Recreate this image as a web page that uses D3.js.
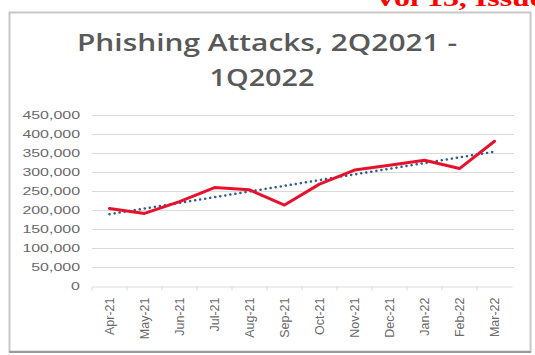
<!DOCTYPE html>
<html><head><meta charset="utf-8">
<script src="https://cdn.jsdelivr.net/npm/d3@7"></script>
<style>body{margin:0;background:#fff;}svg{display:block;}</style>
</head><body>
<script>
const categories = ["Apr-21","May-21","Jun-21","Jul-21","Aug-21","Sep-21","Oct-21","Nov-21","Dec-21","Jan-22","Feb-22","Mar-22"];
const attacks = [204000,191000,222000,259000,253000,213000,268000,305000,318000,331000,309000,381000];
const yTicks = [0,50000,100000,150000,200000,250000,300000,350000,400000,450000];
const titleLines = ["Phishing Attacks, 2Q2021 -","1Q2022"];

const W=535,H=355;
const svg=d3.select("body").append("svg").attr("width",W).attr("height",H);
svg.append("rect").attr("width",W).attr("height",H).attr("fill","#fff");

// cropped header text (cut by the top edge as in the source)
svg.append("text").attr("x",374).attr("y",6).attr("fill","#ff0000")
  .attr("font-family","Liberation Serif").attr("font-weight","bold").attr("font-size",24)
  .attr("textLength",170).attr("lengthAdjust","spacingAndGlyphs")
  .text("Vol 13, Issue");

// chart box
svg.append("rect").attr("x",9.5).attr("y",12.5).attr("width",521).attr("height",339)
  .attr("fill","#fff").attr("stroke","#c8c8c8").attr("stroke-width",2);
svg.append("line").attr("x1",9).attr("x2",531).attr("y1",352).attr("y2",352).attr("stroke","#9a9a9a").attr("stroke-width",2);

// title
svg.append("g").selectAll("text").data(titleLines).join("text")
  .attr("x",(d,i)=>i?262:267).attr("y",(d,i)=>51+i*35).attr("text-anchor","middle")
  .attr("font-family","Open Sans").attr("font-weight",600).attr("font-size",24).attr("fill","#595959")
  .attr("textLength",(d,i)=>i?105:380).attr("lengthAdjust","spacingAndGlyphs")
  .text(d=>d);

const x=d3.scaleBand().domain(categories).range([92,512]);
const y=d3.scaleLinear().domain([0,450000]).range([286,115]);

// gridlines
svg.append("g").selectAll("line").data(yTicks.slice(1)).join("line")
  .attr("x1",92).attr("x2",514).attr("y1",d=>Math.round(y(d))+0.5).attr("y2",d=>Math.round(y(d))+0.5)
  .attr("stroke","#d9d9d9").attr("stroke-width",1);

// y axis labels
const yAxis=d3.axisLeft(y).tickValues(yTicks).tickSize(0).tickPadding(0).tickFormat(d3.format(","));
const gy=svg.append("g").attr("transform","translate(80,0) scale(1.45,1)").call(yAxis);
gy.select(".domain").remove();
gy.selectAll("text").attr("font-family","Liberation Sans").attr("font-size",11).attr("fill","#6a6a6a");

// x axis
const xAxis=d3.axisBottom(x).tickSize(4).tickSizeOuter(0);
const gx=svg.append("g").attr("transform","translate(0,"+(Math.round(y(0))+0.5)+")").call(xAxis);
gx.select(".domain").attr("stroke","#d9d9d9");
gx.selectAll(".tick line").attr("stroke","#d9d9d9").attr("transform","translate("+(-x.bandwidth()/2)+",0)");
gx.selectAll("text").attr("font-family","Liberation Sans").attr("font-size",12.5).attr("fill","#6a6a6a")
  .attr("transform","rotate(-90)").attr("text-anchor","end").attr("dx","-11").attr("dy","0.35em").attr("x",0).attr("y",0);

// trendline (linear regression, as the spreadsheet's trendline)
const n=attacks.length, idx=d3.range(n);
const mx=d3.mean(idx), my=d3.mean(attacks);
const slope=d3.sum(idx,i=>(i-mx)*(attacks[i]-my))/d3.sum(idx,i=>(i-mx)*(i-mx));
const icpt=my-slope*mx;
const cx=i=>x(categories[i])+x.bandwidth()/2;
svg.append("line").attr("x1",cx(0)).attr("x2",cx(n-1))
  .attr("y1",y(icpt)).attr("y2",y(icpt+slope*(n-1)))
  .attr("stroke","#2e5e8e").attr("stroke-width",2.5).attr("stroke-dasharray","0.1,5").attr("stroke-linecap","round");

// data line
const line=d3.line().x((d,i)=>cx(i)).y(d=>y(d));
svg.append("path").datum(attacks).attr("d",line).attr("fill","none")
  .attr("stroke","#e8112d").attr("stroke-width",3).attr("stroke-linejoin","round").attr("stroke-linecap","round");
</script>
</body></html>
